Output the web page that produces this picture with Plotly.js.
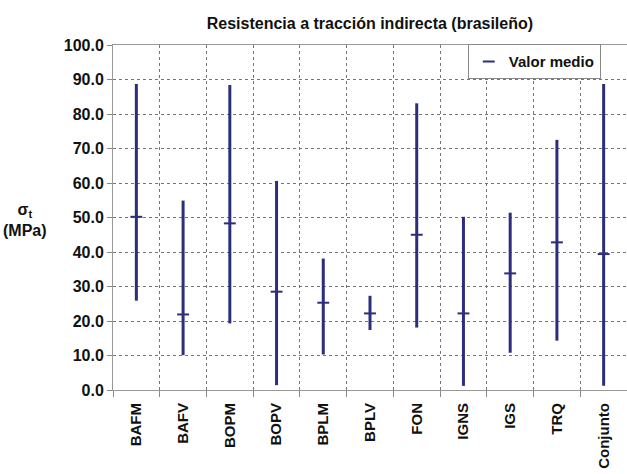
<!DOCTYPE html>
<html>
<head>
<meta charset="utf-8">
<script src="https://cdn.plot.ly/plotly-3.0.1.min.js"></script>
<style>
  body { margin: 0; background: #fff; }
  #plot { width: 627px; height: 474px; }
</style>
</head>
<body>
<div id="plot"></div>
<script>
// Rock groups and the tensile strength values (MPa)
var grupos = ["BAFM", "BAFV", "BOPM", "BOPV", "BPLM", "BPLV", "FON", "IGNS", "IGS", "TRQ", "Conjunto"];
var maximos = [88.7, 54.9, 88.4, 60.6, 38.1, 27.3, 83.1, 50.2, 51.4, 72.5, 88.7];
var minimos = [25.9, 10.1, 19.3, 1.4, 10.3, 17.4, 18.1, 1.2, 10.8, 14.3, 1.2];
var medios  = [50.2, 21.9, 48.3, 28.5, 25.3, 22.2, 45.0, 22.2, 33.8, 42.8, 39.4];

var azul = "#2c2e7c";

// error bars go from the mean up to the max and down to the min
var arriba = medios.map(function (m, i) { return maximos[i] - m; });
var abajo = medios.map(function (m, i) { return m - minimos[i]; });

var trace = {
  x: grupos,
  y: medios,
  type: "scatter",
  mode: "markers",
  name: "Valor medio",
  marker: {
    symbol: "line-ew",
    size: 8.5,
    color: azul,
    line: { color: azul, width: 2 }
  },
  error_y: {
    type: "data",
    symmetric: false,
    array: arriba,
    arrayminus: abajo,
    width: 0,
    thickness: 3,
    color: azul
  },
  hoverinfo: "x+y"
};

var familia = "Liberation Sans, Arial, sans-serif";
var fuente = { family: familia, size: 15, color: "#111", weight: "bold" };

var layout = {
  width: 627,
  height: 474,
  margin: { l: 113, r: 0, t: 45, b: 84, autoexpand: false },
  paper_bgcolor: "#fff",
  plot_bgcolor: "#fff",
  font: fuente,
  title: {
    text: "Resistencia a tracción indirecta (brasileño)",
    font: { family: familia, size: 16, color: "#111", weight: "bold" },
    x: 0.59,
    xanchor: "center",
    y: 0.951,
    yanchor: "middle"
  },
  showlegend: true,
  legend: {
    x: 0.949,
    xanchor: "right",
    y: 1.002,
    yanchor: "top",
    bgcolor: "#fff",
    bordercolor: "#888",
    borderwidth: 1,
    font: { family: familia, size: 15, color: "#111", weight: "bold" },
    itemwidth: 30
  },
  xaxis: {
    type: "category",
    range: [-0.5, grupos.length - 0.5],
    tickson: "boundaries",
    ticks: "outside",
    ticklen: 6,
    tickcolor: "#888",
    tickangle: -90,
    tickfont: { family: familia, size: 15, color: "#111", weight: "bold" },
    showgrid: true,
    gridcolor: "#777",
    griddash: "dot",
    gridwidth: 1,
    showline: true,
    linecolor: "#999",
    linewidth: 1,
    mirror: true,
    zeroline: false,
    automargin: false,
    ticklabelstandoff: 6
  },
  yaxis: {
    range: [0, 100],
    dtick: 10,
    tickformat: ".1f",
    ticks: "outside",
    ticklen: 5,
    tickcolor: "#888",
    tickfont: { family: familia, size: 16, color: "#111", weight: "bold" },
    showgrid: true,
    gridcolor: "#777",
    griddash: "dot",
    gridwidth: 1,
    showline: true,
    linecolor: "#999",
    linewidth: 1,
    zeroline: false,
    automargin: false
  },
  annotations: [{
    text: "σ<sub>t</sub><br>(MPa)",
    xref: "paper",
    yref: "paper",
    x: -0.171,
    y: 0.493,
    xanchor: "center",
    yanchor: "middle",
    showarrow: false,
    font: { family: familia, size: 16, color: "#111", weight: "bold" }
  }]
};

Plotly.newPlot("plot", [trace], layout, { displayModeBar: false, staticPlot: true });
</script>
</body>
</html>
